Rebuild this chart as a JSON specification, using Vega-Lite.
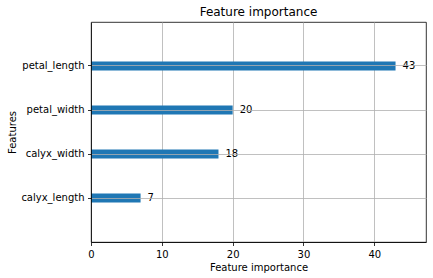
{
  "$schema": "https://vega.github.io/schema/vega-lite/v6.json",
  "width": 335,
  "height": 220,
  "autosize": "none",
  "padding": {"left": 91, "top": 22, "right": 7, "bottom": 36},
  "background": "white",
  "title": {"text": "Feature importance", "fontSize": 12, "font": "DejaVu Sans", "fontWeight": "normal", "color": "black", "offset": 3, "anchor": "middle"},
  "config": {
    "view": {"stroke": "black", "strokeWidth": 0.8},
    "font": "DejaVu Sans",
    "axis": {
      "labelFont": "DejaVu Sans", "labelFontSize": 10, "labelColor": "black",
      "titleFont": "DejaVu Sans", "titleFontSize": 10, "titleFontWeight": "normal", "titleColor": "black",
      "domainColor": "black", "domainWidth": 0.8,
      "tickColor": "black", "tickWidth": 0.8, "tickSize": 3.5, "labelPadding": 3.5,
      "gridColor": "#b0b0b0", "gridWidth": 0.8, "gridOpacity": 1
    }
  },
  "data": {
    "values": [
      {"feature": "petal_length", "importance": 43},
      {"feature": "petal_width", "importance": 20},
      {"feature": "calyx_width", "importance": 18},
      {"feature": "calyx_length", "importance": 7}
    ]
  },
  "encoding": {
    "y": {
      "field": "feature", "type": "nominal",
      "sort": {"field": "importance", "order": "descending"},
      "scale": {"paddingInner": 0.8, "paddingOuter": 0.9},
      "axis": {"title": "Features", "grid": true, "bandPosition": 0.5, "zindex": 1, "titlePadding": 3, "labelAngle": 0}
    },
    "x": {
      "field": "importance", "type": "quantitative",
      "scale": {"domain": [0, 47.3], "nice": false, "zero": true},
      "axis": {"title": "Feature importance", "grid": true, "values": [0, 10, 20, 30, 40], "zindex": 0, "titlePadding": 3, "labelFlush": false}
    }
  },
  "layer": [
    {"mark": {"type": "bar", "color": "#1f77b4"}},
    {"mark": {"type": "text", "align": "left", "baseline": "middle", "dx": 7, "fontSize": 10, "color": "black", "font": "DejaVu Sans"},
     "encoding": {"text": {"field": "importance", "type": "quantitative"}}}
  ]
}
